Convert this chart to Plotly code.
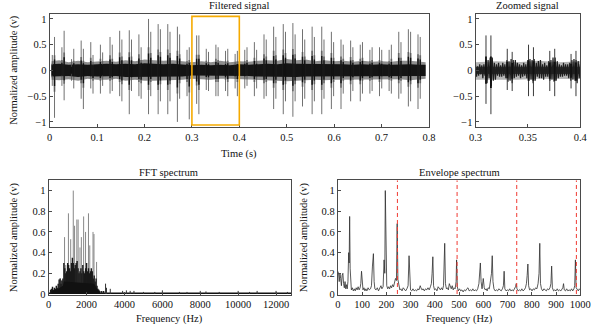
import plotly.graph_objects as go

# ---------------- data ----------------
# impulse pairs in the filtered signal: times (s), positive peaks, negative peaks
imp_t = [0.0055, 0.0102, 0.0258, 0.0305, 0.0461, 0.0508, 0.0664, 0.0711, 0.0867, 0.0914,
         0.1070, 0.1117, 0.1273, 0.1320, 0.1476, 0.1523, 0.1679, 0.1726, 0.1882, 0.1929,
         0.2085, 0.2132, 0.2288, 0.2335, 0.2491, 0.2538, 0.2694, 0.2741, 0.2897, 0.2944,
         0.3100, 0.3147, 0.3303, 0.3350, 0.3506, 0.3553, 0.3709, 0.3756, 0.3912, 0.3959,
         0.4115, 0.4162, 0.4318, 0.4365, 0.4521, 0.4568, 0.4724, 0.4771, 0.4927, 0.4974,
         0.5130, 0.5177, 0.5333, 0.5380, 0.5536, 0.5583, 0.5739, 0.5786, 0.5942, 0.5989,
         0.6145, 0.6192, 0.6348, 0.6395, 0.6551, 0.6598, 0.6754, 0.6801, 0.6957, 0.7004,
         0.7160, 0.7207, 0.7363, 0.7410, 0.7566, 0.7613, 0.7769, 0.7816]
imp_up = [0.30, 0.65, 0.45, 0.77, 0.22, 0.42, 0.58, 0.42, 0.55, 0.30,
          0.50, 0.35, 0.65, 0.50, 0.77, 0.60, 0.78, 0.60, 0.70, 0.45,
          1.00, 0.75, 0.90, 0.80, 0.90, 0.75, 0.85, 0.70, 0.40, 0.45,
          0.68, 0.68, 0.42, 0.36, 0.50, 0.45, 0.38, 0.42, 0.32, 0.38,
          0.40, 0.45, 0.55, 0.40, 0.70, 0.60, 0.85, 0.65, 0.90, 0.75,
          0.92, 0.70, 0.80, 0.60, 0.85, 0.65, 0.85, 0.60, 0.75, 0.55,
          0.60, 0.50, 0.58, 0.45, 0.50, 0.55, 0.40, 0.45, 0.45, 0.40,
          0.40, 0.50, 0.75, 0.55, 0.80, 0.75, 0.70, 0.65]
imp_dn = [-0.30, -0.92, -0.30, -0.58, -0.20, -0.35, -0.55, -0.75, -0.35, -0.45,
          -0.45, -0.30, -0.45, -0.40, -0.50, -0.60, -0.85, -0.40, -0.50, -0.55,
          -0.85, -0.50, -0.85, -0.60, -0.85, -0.60, -1.00, -0.55, -0.50, -0.95,
          -0.65, -0.85, -0.38, -0.40, -0.50, -0.50, -0.40, -0.50, -0.35, -0.50,
          -0.35, -0.30, -0.50, -0.35, -0.55, -0.50, -0.75, -0.55, -0.85, -0.60,
          -0.90, -0.60, -0.70, -0.55, -0.85, -0.60, -0.85, -0.55, -0.75, -0.50,
          -0.75, -0.45, -0.60, -0.40, -0.60, -0.45, -0.45, -0.40, -0.50, -0.35,
          -0.40, -0.45, -0.55, -0.45, -0.70, -0.60, -0.75, -0.55]

# background noise band of the filtered signal (dense black core, grey fringe)
band_t = [0.004, 0.02, 0.04, 0.06, 0.08, 0.10, 0.12, 0.14, 0.16, 0.18, 0.20, 0.22, 0.24, 0.26,
          0.28, 0.30, 0.32, 0.34, 0.36, 0.38, 0.40, 0.42, 0.44, 0.46, 0.48, 0.50, 0.52, 0.54,
          0.56, 0.58, 0.60, 0.62, 0.64, 0.66, 0.68, 0.70, 0.72, 0.74, 0.76, 0.78, 0.793]
core_hi = [0.12, 0.13, 0.11, 0.12, 0.11, 0.12, 0.13, 0.12, 0.13, 0.12, 0.14, 0.13, 0.12, 0.13,
           0.12, 0.10, 0.11, 0.10, 0.11, 0.10, 0.12, 0.11, 0.12, 0.13, 0.12, 0.14, 0.13, 0.13,
           0.12, 0.13, 0.12, 0.12, 0.11, 0.12, 0.11, 0.12, 0.11, 0.12, 0.12, 0.11, 0.11]
core_lo = [-0.12, -0.12, -0.11, -0.13, -0.11, -0.12, -0.12, -0.11, -0.13, -0.12, -0.13, -0.13, -0.12, -0.12,
           -0.12, -0.10, -0.10, -0.11, -0.10, -0.10, -0.11, -0.11, -0.12, -0.12, -0.13, -0.13, -0.13, -0.12,
           -0.12, -0.12, -0.12, -0.11, -0.12, -0.11, -0.11, -0.12, -0.11, -0.11, -0.12, -0.11, -0.11]
outer_hi = [0.18, 0.20, 0.16, 0.19, 0.16, 0.18, 0.19, 0.17, 0.20, 0.18, 0.21, 0.20, 0.19, 0.20,
            0.18, 0.16, 0.18, 0.16, 0.19, 0.16, 0.18, 0.17, 0.19, 0.20, 0.19, 0.22, 0.20, 0.21,
            0.18, 0.20, 0.18, 0.19, 0.17, 0.19, 0.17, 0.18, 0.17, 0.19, 0.19, 0.18, 0.16]
outer_lo = [-0.18, -0.19, -0.17, -0.20, -0.16, -0.18, -0.18, -0.16, -0.20, -0.18, -0.20, -0.20, -0.19, -0.19,
            -0.18, -0.16, -0.17, -0.18, -0.16, -0.16, -0.17, -0.17, -0.19, -0.19, -0.20, -0.21, -0.20, -0.19,
            -0.18, -0.19, -0.18, -0.17, -0.18, -0.17, -0.17, -0.18, -0.17, -0.17, -0.19, -0.17, -0.16]

# zoomed view (0.3-0.4 s): oscillation envelope sampled every 1 ms
zoom_t = [0.300, 0.301, 0.302, 0.303, 0.304, 0.305, 0.306, 0.307, 0.308, 0.309,
          0.310, 0.311, 0.312, 0.313, 0.314, 0.315, 0.316, 0.317, 0.318, 0.319,
          0.320, 0.321, 0.322, 0.323, 0.324, 0.325, 0.326, 0.327, 0.328, 0.329,
          0.330, 0.331, 0.332, 0.333, 0.334, 0.335, 0.336, 0.337, 0.338, 0.339,
          0.340, 0.341, 0.342, 0.343, 0.344, 0.345, 0.346, 0.347, 0.348, 0.349,
          0.350, 0.351, 0.352, 0.353, 0.354, 0.355, 0.356, 0.357, 0.358, 0.359,
          0.360, 0.361, 0.362, 0.363, 0.364, 0.365, 0.366, 0.367, 0.368, 0.369,
          0.370, 0.371, 0.372, 0.373, 0.374, 0.375, 0.376, 0.377, 0.378, 0.379,
          0.380, 0.381, 0.382, 0.383, 0.384, 0.385, 0.386, 0.387, 0.388, 0.389,
          0.390, 0.391, 0.392, 0.393, 0.394, 0.395, 0.396, 0.397, 0.398, 0.399, 0.400]
zoom_v = [0.10, -0.12, 0.08, -0.10, 0.12, -0.08, 0.10, -0.15, 0.12, -0.10,
          0.20, -0.25, 0.20, -0.15, 0.25, -0.30, 0.25, -0.20, 0.15, -0.18,
          0.12, -0.10, 0.15, -0.12, 0.10, -0.12, 0.15, -0.10, 0.12, -0.15,
          0.20, -0.22, 0.18, -0.20, 0.22, -0.25, 0.20, -0.15, 0.20, -0.12,
          0.15, -0.10, 0.12, -0.15, 0.10, -0.12, 0.15, -0.10, 0.12, -0.15,
          0.20, -0.20, 0.22, -0.18, 0.20, -0.25, 0.22, -0.20, 0.15, -0.12,
          0.18, -0.15, 0.20, -0.15, 0.12, -0.18, 0.15, -0.12, 0.10, -0.12,
          0.18, -0.20, 0.20, -0.18, 0.25, -0.22, 0.25, -0.20, 0.18, -0.15,
          0.12, -0.12, 0.10, -0.12, 0.15, -0.10, 0.12, -0.10, 0.12, -0.15,
          0.15, -0.20, 0.20, -0.18, 0.22, -0.20, 0.20, -0.25, 0.18, -0.15, 0.12]
zoom_core = [0.07, -0.07]

# FFT spectrum: dense body lines, tall grey peaks, high-frequency floor bumps
fft_body_f = [100, 150, 200, 250, 300, 350, 400, 450, 500, 550, 600, 650, 700, 750, 800, 850, 900,
              950, 1000, 1050, 1100, 1150, 1200, 1250, 1300, 1350, 1400, 1450, 1500, 1550, 1600,
              1650, 1700, 1750, 1800, 1850, 1900, 1950, 2000, 2050, 2100, 2150, 2200, 2250, 2300,
              2350, 2400, 2450, 2500, 2550, 2600, 2650, 2700, 2800, 2900]
fft_body_a = [0.04, 0.05, 0.07, 0.04, 0.06, 0.05, 0.08, 0.06, 0.10, 0.14, 0.15, 0.10, 0.13, 0.15,
              0.30, 0.25, 0.20, 0.22, 0.30, 0.28, 0.25, 0.22, 0.30, 0.35, 0.30, 0.25, 0.28, 0.30,
              0.32, 0.25, 0.20, 0.22, 0.25, 0.20, 0.28, 0.22, 0.20, 0.25, 0.30, 0.22, 0.25, 0.20,
              0.22, 0.25, 0.22, 0.15, 0.18, 0.12, 0.15, 0.08, 0.05, 0.04, 0.03, 0.03, 0.03]
fft_base_f = [150, 500, 750, 800, 2400, 2550, 2700]
fft_base_a = [0.03, 0.05, 0.08, 0.12, 0.10, 0.05, 0.02]
fft_peak_f = [620, 680, 836, 900, 1041, 1160, 1297, 1365, 1485, 1553, 1650, 1724, 1843, 1945,
              2099, 2167, 2338, 2389, 2526]
fft_peak_a = [0.15, 0.13, 0.55, 0.28, 0.78, 0.53, 1.00, 0.66, 0.72, 0.72, 0.45, 0.55, 0.75, 0.60,
              0.78, 0.47, 0.60, 0.58, 0.31]
fft_tail_f = [3000, 3050, 3250, 3900, 4100, 4300, 4500, 5000, 5600, 6000, 6900, 7300, 8000, 8300,
              9000, 10000, 10600, 11000, 12000, 12600]
fft_tail_a = [0.10, 0.06, 0.05, 0.03, 0.035, 0.03, 0.03, 0.02, 0.02, 0.035, 0.02, 0.02, 0.03, 0.025,
              0.02, 0.03, 0.02, 0.03, 0.03, 0.02]
fft_floor_f = [0, 12800]
fft_floor_a = [0.015, 0.015]

# envelope spectrum
env_f = [0, 3, 6, 9, 12, 15, 18, 21, 24, 27, 30, 33, 36, 39, 42, 45, 47, 49, 51, 53, 56, 60, 64, 68,
         72, 76, 80, 84, 88, 92, 95, 98, 101, 104, 108, 112, 116, 120, 125, 130, 135, 139, 143, 147,
         150, 153, 158, 163, 168, 173, 178, 182, 187, 191, 194, 196, 199, 202, 206, 210, 214, 218,
         222, 226, 230, 234, 238, 242, 245, 248, 252, 256, 260, 265, 270, 275, 280, 285, 290, 294,
         297, 300, 305, 310, 315, 320, 325, 330, 335, 340, 343, 347, 352, 357, 362, 367, 372, 377,
         382, 386, 389, 392, 395, 399, 404, 409, 414, 418, 423, 428, 432, 436, 439, 441, 444, 448,
         452, 456, 460, 464, 468, 472, 476, 480, 484, 488, 490, 493, 497, 502, 507, 512, 517, 522,
         527, 532, 537, 542, 547, 552, 557, 562, 567, 572, 577, 582, 585, 588, 591, 595, 600, 604,
         608, 612, 616, 620, 625, 630, 634, 637, 640, 644, 649, 654, 659, 664, 669, 674, 679, 683,
         686, 689, 694, 699, 704, 709, 714, 719, 724, 729, 733, 736, 739, 744, 749, 754, 759, 764,
         769, 774, 778, 781, 784, 787, 791, 796, 801, 806, 811, 816, 821, 826, 830, 833, 836, 840,
         845, 850, 855, 860, 865, 870, 875, 879, 882, 885, 890, 895, 900, 905, 910, 915, 920, 925,
         928, 931, 934, 939, 944, 949, 954, 959, 964, 969, 974, 977, 980, 983, 987, 992, 996, 1000]
env_a = [0.22, 0.20, 0.12, 0.20, 0.15, 0.08, 0.18, 0.20, 0.10, 0.06, 0.12, 0.05, 0.09, 0.05, 0.12,
         0.40, 0.30, 0.75, 0.25, 0.08, 0.04, 0.06, 0.03, 0.05, 0.03, 0.06, 0.04, 0.07, 0.04, 0.06,
         0.10, 0.22, 0.08, 0.04, 0.06, 0.03, 0.05, 0.03, 0.06, 0.04, 0.05, 0.08, 0.27, 0.39, 0.12,
         0.05, 0.04, 0.06, 0.03, 0.05, 0.08, 0.05, 0.07, 0.33, 0.20, 1.00, 0.30, 0.08, 0.05, 0.07,
         0.05, 0.08, 0.06, 0.09, 0.07, 0.12, 0.15, 0.13, 0.68, 0.14, 0.08, 0.04, 0.05, 0.03, 0.06,
         0.04, 0.03, 0.05, 0.08, 0.37, 0.10, 0.04, 0.03, 0.05, 0.03, 0.04, 0.03, 0.05, 0.04, 0.08,
         0.06, 0.04, 0.05, 0.03, 0.05, 0.04, 0.06, 0.04, 0.07, 0.10, 0.20, 0.36, 0.08, 0.04, 0.05,
         0.03, 0.07, 0.05, 0.04, 0.06, 0.04, 0.08, 0.25, 0.49, 0.10, 0.05, 0.06, 0.04, 0.10, 0.06,
         0.05, 0.08, 0.04, 0.06, 0.05, 0.12, 0.33, 0.07, 0.03, 0.05, 0.03, 0.04, 0.02, 0.04, 0.03,
         0.05, 0.06, 0.03, 0.04, 0.03, 0.05, 0.03, 0.04, 0.03, 0.05, 0.10, 0.20, 0.30, 0.12, 0.05,
         0.15, 0.06, 0.04, 0.05, 0.03, 0.06, 0.05, 0.12, 0.20, 0.37, 0.12, 0.05, 0.03, 0.04, 0.03,
         0.05, 0.04, 0.03, 0.05, 0.08, 0.22, 0.05, 0.03, 0.04, 0.03, 0.05, 0.03, 0.04, 0.03, 0.05,
         0.07, 0.10, 0.05, 0.03, 0.04, 0.03, 0.05, 0.03, 0.04, 0.06, 0.10, 0.18, 0.29, 0.08, 0.04,
         0.05, 0.03, 0.05, 0.04, 0.06, 0.05, 0.10, 0.20, 0.49, 0.10, 0.05, 0.03, 0.05, 0.04, 0.03,
         0.05, 0.04, 0.06, 0.10, 0.27, 0.06, 0.03, 0.04, 0.03, 0.05, 0.03, 0.04, 0.03, 0.05, 0.06,
         0.10, 0.04, 0.03, 0.05, 0.03, 0.04, 0.03, 0.05, 0.03, 0.05, 0.08, 0.33, 0.06, 0.04, 0.03,
         0.05, 0.04]
fault_f = [246, 492, 738, 984]  # red dashed marker lines

zoom_window = [0.3, 0.4]

# ---------------- figure ----------------
W, H = 600, 333
FONT = "Liberation Serif"
AX = "#4a4a4a"


def dx(a, b):
    return [a / W, b / W]


def dy(top, bottom):
    return [(H - bottom) / H, (H - top) / H]


def segs(xs, lo, hi):
    X, Y = [], []
    for x, a, b in zip(xs, lo, hi):
        X += [x, x, None]
        Y += [a, b, None]
    return X, Y


fig = go.Figure()


def add_poly(xa, ya, tlo, thi, hi, lo, col):
    sel = [i for i, t in enumerate(band_t) if tlo - 0.021 <= t <= thi + 0.021]
    bt = [band_t[i] for i in sel]
    px = bt + bt[::-1]
    py = [hi[i] for i in sel] + [lo[i] for i in sel][::-1]
    fig.add_trace(go.Scatter(x=px, y=py, mode="lines", fill="toself", fillcolor=col,
                             line=dict(width=0, color=col), xaxis=xa, yaxis=ya,
                             hoverinfo="skip", showlegend=False))


def add_seg(xa, ya, ts, lo, hi, col, w):
    X, Y = segs(ts, lo, hi)
    fig.add_trace(go.Scatter(x=X, y=Y, mode="lines", line=dict(color=col, width=w),
                             xaxis=xa, yaxis=ya, hoverinfo="skip", showlegend=False))


def impulses(tlo, thi):
    sel = [i for i, t in enumerate(imp_t) if tlo <= t <= thi]
    return ([imp_t[i] for i in sel], [imp_dn[i] for i in sel], [imp_up[i] for i in sel])


# top-left: filtered signal
add_poly("x", "y", 0, 0.8, outer_hi, outer_lo, "#8f8f8f")
ts, dn, up = impulses(0, 0.8)
add_seg("x", "y", ts, [0.45 * v for v in dn], [0.45 * v for v in up], "#8a8a8a", 1.8)
add_poly("x", "y", 0, 0.8, core_hi, core_lo, "#141414")
add_seg("x", "y", ts, dn, up, "#4d4d4d", 0.8)
add_seg("x", "y", ts, [0.33 * v for v in dn], [0.33 * v for v in up], "#111111", 1.4)

# top-right: zoomed signal
add_poly("x2", "y2", zoom_window[0], zoom_window[1], outer_hi, outer_lo, "#b4b4b4")
fig.add_trace(go.Scatter(x=[zoom_window[0], zoom_window[1], zoom_window[1], zoom_window[0]],
                         y=[zoom_core[0], zoom_core[0], zoom_core[1], zoom_core[1]],
                         mode="lines", fill="toself", fillcolor="#3a3a3a", line=dict(width=0),
                         xaxis="x2", yaxis="y2", hoverinfo="skip", showlegend=False))
fig.add_trace(go.Scatter(x=zoom_t, y=zoom_v, mode="lines", line=dict(color="#1e1e1e", width=1.2),
                         xaxis="x2", yaxis="y2", hoverinfo="skip", showlegend=False))
ts, dn, up = impulses(zoom_window[0], zoom_window[1])
add_seg("x2", "y2", ts, dn, up, "#3a3a3a", 1.0)
add_seg("x2", "y2", ts, [0.4 * v for v in dn], [0.4 * v for v in up], "#111111", 1.8)

# bottom-left: FFT spectrum
fig.add_trace(go.Scatter(x=fft_floor_f, y=fft_floor_a, mode="lines", fill="tozeroy",
                         line=dict(width=0, color="#111"), fillcolor="#111",
                         xaxis="x3", yaxis="y3", hoverinfo="skip", showlegend=False))
add_seg("x3", "y3", fft_peak_f, [0] * len(fft_peak_f), fft_peak_a, "#7a7a7a", 0.9)
add_seg("x3", "y3", fft_body_f, [0] * len(fft_body_f), fft_body_a, "#1a1a1a", 1.4)
fig.add_trace(go.Scatter(x=fft_base_f, y=fft_base_a, mode="lines", fill="tozeroy",
                         line=dict(width=0, color="#111"), fillcolor="#111",
                         xaxis="x3", yaxis="y3", hoverinfo="skip", showlegend=False))
add_seg("x3", "y3", fft_tail_f, [0] * len(fft_tail_f), fft_tail_a, "#333333", 1.0)

# bottom-right: envelope spectrum
fig.add_trace(go.Scatter(x=env_f, y=env_a, mode="lines", line=dict(color="#2e2e2e", width=0.8),
                         xaxis="x4", yaxis="y4", hoverinfo="skip", showlegend=False))
for f in fault_f:
    fig.add_shape(type="line", xref="x4", yref="y4", x0=f, x1=f, y0=0, y1=1.1,
                  line=dict(color="#f03a32", width=1.0, dash="4px,3px"))

# zoom window box
fig.add_shape(type="rect", xref="x", yref="y", x0=zoom_window[0], x1=zoom_window[1], y0=-1.06, y1=1.05,
              line=dict(color="#f5aa00", width=1.6))

axcommon = dict(showline=True, mirror=True, linecolor=AX, linewidth=1, ticks="inside", ticklen=3,
                tickcolor=AX, showgrid=False, zeroline=False,
                tickfont=dict(family=FONT, size=10.5, color="#111"))
sig_y = dict(range=[-1.1, 1.1], tickvals=[-1, -0.5, 0, 0.5, 1], ticktext=["\u22121", "\u22120.5", "0", "0.5", "1"])
spec_y = dict(range=[-0.005, 1.1], tickvals=[0, 0.2, 0.4, 0.6, 0.8, 1], ticktext=["0", "0.2", "0.4", "0.6", "0.8", "1"])

fig.update_layout(
    width=W, height=H, margin=dict(l=0, r=0, t=0, b=0),
    paper_bgcolor="white", plot_bgcolor="white",
    xaxis=dict(domain=dx(44, 435), range=[0, 0.8], tickvals=[0, 0.1, 0.2, 0.3, 0.4, 0.5, 0.6, 0.7, 0.8],
               ticktext=["0", "0.1", "0.2", "0.3", "0.4", "0.5", "0.6", "0.7", "0.8"], anchor="y", **axcommon),
    yaxis=dict(domain=dy(14, 129), anchor="x", **sig_y, **axcommon),
    xaxis2=dict(domain=dx(483, 591), range=[0.3, 0.4], tickvals=[0.3, 0.35, 0.4],
                ticktext=["0.3", "0.35", "0.4"], anchor="y2", **axcommon),
    yaxis2=dict(domain=dy(14, 129), anchor="x2", **sig_y, **axcommon),
    xaxis3=dict(domain=dx(43, 293), range=[0, 12800], tickvals=[0, 2000, 4000, 6000, 8000, 10000, 12000],
                ticktext=["0", "2000", "4000", "6000", "8000", "10000", "12000"], anchor="y3", **axcommon),
    yaxis3=dict(domain=dy(183, 299), anchor="x3", **spec_y, **axcommon),
    xaxis4=dict(domain=dx(341, 591), range=[0, 1000], tickvals=list(range(0, 1001, 100)),
                ticktext=[str(v) for v in range(0, 1001, 100)], anchor="y4", **axcommon),
    yaxis4=dict(domain=dy(183, 299), anchor="x4", **spec_y, **axcommon),
)

labels = [
    ("Filtered signal", 239, 6, 0),
    ("Zoomed signal", 537, 6, 0),
    ("Time (s)", 239, 156, 0),
    ("FFT spectrum", 167, 175, 0),
    ("Envelope spectrum", 466, 175, 0),
    ("Frequency (Hz)", 168, 324, 0),
    ("Frequency (Hz)", 466, 324, 0),
    ("Normalized amplitude (v)", 7, 71, -90),
    ("Normalized amplitude (v)", 8, 241, -90),
    ("Normalized amplitude (v)", 307, 241, -90),
]
for text, x, y, ang in labels:
    fig.add_annotation(text=text, x=x / W, y=1 - y / H, xref="paper", yref="paper", showarrow=False,
                       textangle=ang, xanchor="center", yanchor="middle",
                       font=dict(family=FONT, size=10.5, color="#111"))

fig.write_html("out.html")
